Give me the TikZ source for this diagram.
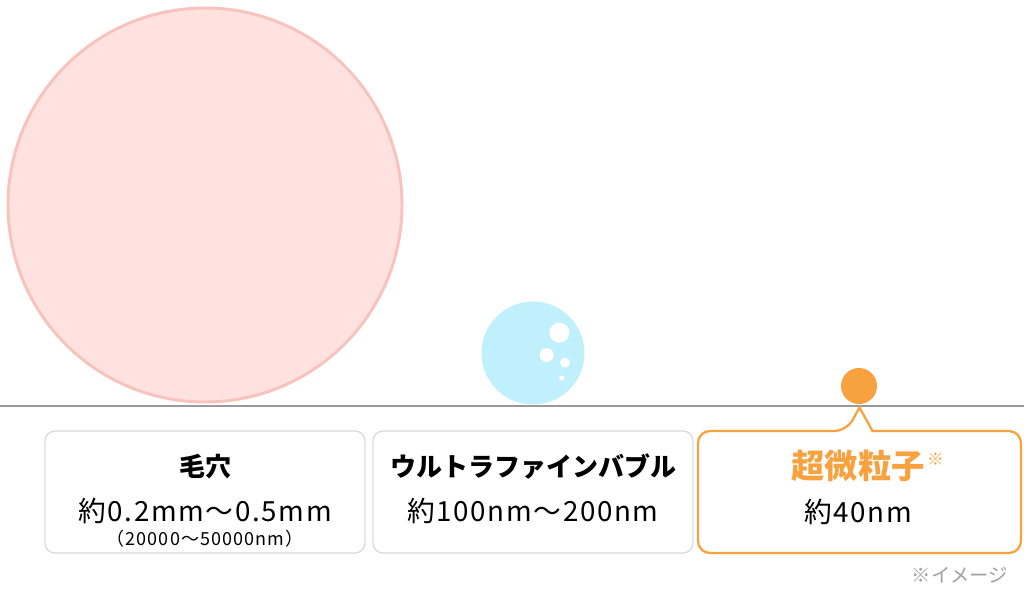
\documentclass[tikz,border=0pt]{standalone}
\usepackage{fontspec}
\setmainfont{Noto Sans CJK JP}
\newfontfamily\valfont[LetterSpace=6]{Noto Sans CJK JP}
\usetikzlibrary{calc}
\definecolor{pinkfill}{HTML}{FDE2DF}
\definecolor{pinkline}{HTML}{F8C3BD}
\definecolor{bluefill}{HTML}{C0F0FB}
\definecolor{orangec}{HTML}{F7A23F}
\definecolor{boxline}{HTML}{DCDCDC}
\definecolor{floorc}{HTML}{999999}
\definecolor{notegray}{HTML}{A0A0A0}
\begin{document}
\begin{tikzpicture}[x=0.75pt,y=-0.75pt,
  greybox/.style={draw=boxline,line width=1.1pt,rounded corners=7.5pt,fill=white},
  titletxt/.style={font=\fontsize{19.5}{22}\selectfont\bfseries, inner sep=0pt},
  valtxt/.style={font=\valfont\fontsize{20.8}{22}\selectfont, inner sep=0pt},
  smalltxt/.style={font=\valfont\fontsize{13.5}{15}\selectfont, inner sep=0pt},
  bubble/.style={circle,fill=white,inner sep=0pt}]
\useasboundingbox (0,0) rectangle (1024,590);
\fill[white] (0,0) rectangle (1024,590);
% big pore circle
\draw[pinkline,fill=pinkfill,line width=2.2pt] (205,205) circle[radius=197];
% blue bubble
\fill[bluefill] (533,353) circle[radius=51.5];
\node[bubble,minimum size=15pt] (b1) at (559.3,332.7) {};
\node[bubble,minimum size=10.5pt] (b2) at (546.7,355) {};
\node[bubble,minimum size=7.5pt] (b3) at (565,362.7) {};
\node[bubble,minimum size=3.8pt] (b4) at (561.7,378) {};
% orange particle
\fill[orangec] (859,386) circle[radius=18];
% floor line
\draw[floorc,line width=1.5pt] (0,405.5) -- (1024,405.5);
% boxes
\draw[greybox] (45,431) rectangle (365,553);
\draw[greybox] (373,431) rectangle (693,553);
\draw[orangec,line width=1.7pt,fill=white,rounded corners=9pt]
  (698,431) -- (846.5,431) [sharp corners] -- (859.5,407.5) -- (872.5,431) [rounded corners=9pt] -- (1021,431) -- (1021,553) -- (698,553) -- cycle;
% texts
\node[titletxt] (t1) at (205,467) {毛穴};
\node[valtxt] (v1) at (205,511) {約0.2mm〜0.5mm};
\node[smalltxt] (s1) at (205,539) {（20000〜50000nm）};
\node[titletxt] (t2) at (533,467) {ウルトラファインバブル};
\node[valtxt] (v2) at (533,511) {約100nm〜200nm};
\node[titletxt,font=\fontsize{25}{28}\selectfont\bfseries,text=orangec] (t3) at (858,466) {超微粒子};
\node[smalltxt,font=\fontsize{12.5}{13}\selectfont,text=orangec,anchor=west] (t3n) at ($(t3.east)+(2,-7)$) {※};
\node[valtxt] (v3) at (858,512) {約40nm};
\node[smalltxt,font=\fontsize{14.5}{16}\selectfont,text=notegray] (note) at (960,575) {※イメージ};
\end{tikzpicture}
\end{document}
